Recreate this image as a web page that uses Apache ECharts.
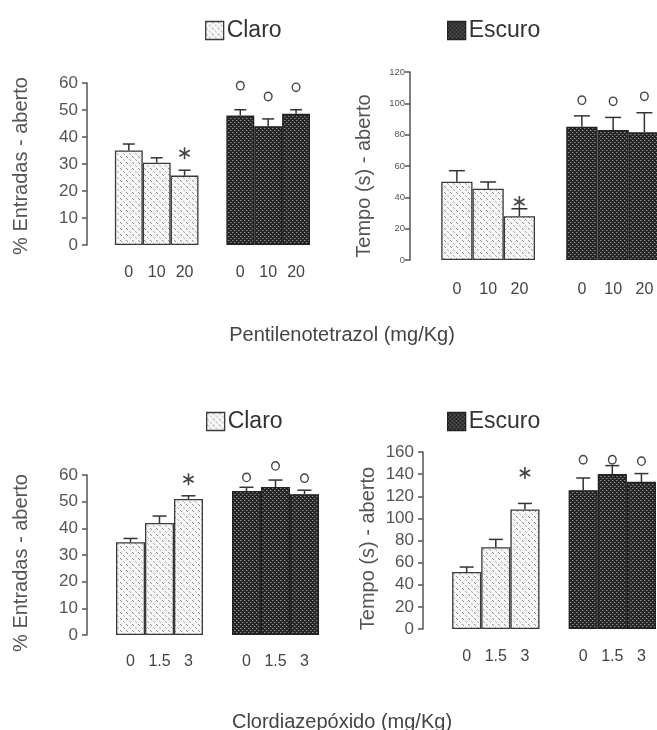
<!DOCTYPE html>
<html><head><meta charset="utf-8">
<script src="https://cdn.jsdelivr.net/npm/echarts@6/dist/echarts.min.js"></script>
<style>html,body{margin:0;padding:0;background:#fff}#c{width:657px;height:730px}</style>
</head><body><div id="c"></div>
<script>
// ---- data ----
const dosesPTZ = ['0', '10', '20'];
const dosesCDP = ['0', '1.5', '3'];
// Pentilenotetrazol: % entradas
const ptzEntClaro = [35, 30.5, 25.7];
const ptzEntClaroErr = [2.4, 1.8, 2.0];
const ptzEntEscuro = [48, 44, 48.6];
const ptzEntEscuroErr = [2.1, 2.7, 1.5];
const ptzEntClaroMark = [null, null, 34];
const ptzEntEscuroMark = [59, 55, 58.4];
// Pentilenotetrazol: tempo
const ptzTempoClaro = [50, 45.5, 28];
const ptzTempoClaroErr = [7, 4.3, 4.7];
const ptzTempoEscuro = [85, 83, 81.5];
const ptzTempoEscuroErr = [7, 8, 12.5];
const ptzTempoClaroMark = [null, null, 37];
const ptzTempoEscuroMark = [102, 101.3, 104.5];
// Clordiazepoxido: % entradas
const cdpEntClaro = [34.8, 42, 51];
const cdpEntClaroErr = [1.4, 2.6, 1.2];
const cdpEntEscuro = [54, 55.5, 52.8];
const cdpEntEscuroErr = [1.4, 2.6, 1.5];
const cdpEntClaroMark = [null, null, 58.4];
const cdpEntEscuroMark = [59.1, 63.4, 58.8];
// Clordiazepoxido: tempo
const cdpTempoClaro = [51.5, 74, 108];
const cdpTempoClaroErr = [4.5, 7, 5.5];
const cdpTempoEscuro = [125.5, 140, 133];
const cdpTempoEscuroErr = [11, 7.7, 7.5];
const cdpTempoClaroMark = [null, null, 141];
const cdpTempoEscuroMark = [153, 153, 151.7];

const yTicksEnt = [0, 10, 20, 30, 40, 50, 60];
const yTicksTempoPTZ = [0, 20, 40, 60, 80, 100, 120];
const yTicksTempoCDP = [0, 20, 40, 60, 80, 100, 120, 140, 160];

// ---- patterns ----
function patClaro() {
  const c = document.createElement('canvas'); c.width = 6; c.height = 6;
  const g = c.getContext('2d');
  g.fillStyle = '#f6f6f6'; g.fillRect(0, 0, 6, 6);
  g.fillStyle = '#8c8c8c';
  g.fillRect(0, 0, 1, 1); g.fillRect(1, 1, 1, 1);
  g.fillStyle = '#b0b0b0';
  g.fillRect(3, 3, 1, 1); g.fillRect(4, 4, 1, 1);
  return c;
}
function patEscuro() {
  const c = document.createElement('canvas'); c.width = 4; c.height = 4;
  const g = c.getContext('2d');
  g.fillStyle = '#262626'; g.fillRect(0, 0, 4, 4);
  g.fillStyle = '#8e8e8e';
  g.fillRect(0, 0, 1, 1); g.fillRect(2, 2, 1, 1);
  g.fillStyle = '#555';
  g.fillRect(1, 0, 1, 1); g.fillRect(3, 2, 1, 1);
  return c;
}
const fillClaro = { image: patClaro(), repeat: 'repeat' };
const fillEscuro = { image: patEscuro(), repeat: 'repeat' };

const FONT = 'Liberation Sans, Arial, sans-serif';

function cats(doses) { return [''].concat(doses, [''], doses); }
function pad(claro, escuro) {
  return {
    c: [null].concat(claro, [null, null, null, null]),
    e: [null, null, null, null, null].concat(escuro)
  };
}

const grids = [
  { left: 87, top: 83, width: 223, height: 162 },
  { left: 410, top: 72, width: 250, height: 188 },
  { left: 87, top: 475, width: 232, height: 160 },
  { left: 423, top: 452, width: 233, height: 177 }
];

const panels = [
  { doses: dosesPTZ, claro: ptzEntClaro, cErr: ptzEntClaroErr, escuro: ptzEntEscuro, eErr: ptzEntEscuroErr,
    cMark: ptzEntClaroMark, eMark: ptzEntEscuroMark, ticks: yTicksEnt, name: '% Entradas - aberto',
    tickFont: 17, nameGap: 56, namePad: [0, 4, 0, 0], cap: 6, labelMargin: 20 },
  { doses: dosesPTZ, claro: ptzTempoClaro, cErr: ptzTempoClaroErr, escuro: ptzTempoEscuro, eErr: ptzTempoEscuroErr,
    cMark: ptzTempoClaroMark, eMark: ptzTempoEscuroMark, ticks: yTicksTempoPTZ, name: 'Tempo (s) - aberto',
    tickFont: 9.5, nameGap: 36, namePad: [0, 20, 0, 0], cap: 8, labelMargin: 22 },
  { doses: dosesCDP, claro: cdpEntClaro, cErr: cdpEntClaroErr, escuro: cdpEntEscuro, eErr: cdpEntEscuroErr,
    cMark: cdpEntClaroMark, eMark: cdpEntEscuroMark, ticks: yTicksEnt, name: '% Entradas - aberto',
    tickFont: 17, nameGap: 56, namePad: [0, 16, 0, 0], cap: 7, labelMargin: 19 },
  { doses: dosesCDP, claro: cdpTempoClaro, cErr: cdpTempoClaroErr, escuro: cdpTempoEscuro, eErr: cdpTempoEscuroErr,
    cMark: cdpTempoClaroMark, eMark: cdpTempoEscuroMark, ticks: yTicksTempoCDP, name: 'Tempo (s) - aberto',
    tickFont: 17, nameGap: 45, namePad: [0, 16, 0, 0], cap: 7, labelMargin: 20 }
];

const xAxes = [], yAxes = [], series = [];
panels.forEach((p, i) => {
  xAxes.push({
    type: 'category', gridIndex: i, data: cats(p.doses), boundaryGap: true,
    axisLine: { show: false }, axisTick: { show: false },
    axisLabel: { interval: 0, margin: p.labelMargin, fontFamily: FONT, fontSize: 16, color: '#444' }
  });
  const t = p.ticks;
  yAxes.push({
    type: 'value', gridIndex: i, min: t[0], max: t[t.length - 1], interval: t[1] - t[0],
    splitLine: { show: false },
    axisLine: { show: true, lineStyle: { color: '#555', width: 1.5 } },
    axisTick: { show: true, length: 5, lineStyle: { color: '#555', width: 1.5 } },
    axisLabel: { fontFamily: FONT, fontSize: p.tickFont, color: '#555', margin: p.tickFont > 12 ? 9 : 5 },
    name: p.name, nameLocation: 'middle', nameGap: p.nameGap,
    nameTextStyle: { fontFamily: FONT, fontSize: 20, color: '#555', padding: p.namePad }
  });
  const d = pad(p.claro, p.escuro);
  series.push({
    type: 'bar', name: 'Claro', xAxisIndex: i, yAxisIndex: i, data: d.c,
    barCategoryGap: '0%', barGap: '-100%',
    itemStyle: { color: fillClaro, borderColor: '#3a3a3a', borderWidth: 1.3 }, z: 2
  });
  series.push({
    type: 'bar', name: 'Escuro', xAxisIndex: i, yAxisIndex: i, data: d.e,
    barCategoryGap: '0%', barGap: '-100%',
    itemStyle: { color: fillEscuro, borderColor: '#222', borderWidth: 1.3 }, z: 2
  });
  const errData = [];
  p.claro.forEach((v, k) => errData.push([k + 1, v, p.cErr[k]]));
  p.escuro.forEach((v, k) => errData.push([k + 5, v, p.eErr[k]]));
  const cap = p.cap;
  series.push({
    type: 'custom', xAxisIndex: i, yAxisIndex: i, data: errData, z: 3, silent: true,
    encode: { x: 0, y: 1 },
    renderItem: function (params, api) {
      const x = api.value(0), v = api.value(1), e = api.value(2);
      const b = api.coord([x, v]), tp = api.coord([x, v + e]);
      const st = { stroke: '#333', lineWidth: 1.5 };
      return { type: 'group', children: [
        { type: 'line', shape: { x1: b[0], y1: b[1], x2: tp[0], y2: tp[1] }, style: st },
        { type: 'line', shape: { x1: tp[0] - cap, y1: tp[1], x2: tp[0] + cap, y2: tp[1] }, style: st }
      ] };
    }
  });
  const markData = [];
  p.cMark.forEach((v, k) => { if (v != null) markData.push([k + 1, v, 0]); });
  p.eMark.forEach((v, k) => { if (v != null) markData.push([k + 5, v, 1]); });
  series.push({
    type: 'custom', xAxisIndex: i, yAxisIndex: i, data: markData, z: 4, silent: true,
    encode: { x: 0, y: 1 },
    renderItem: function (params, api) {
      const c = api.coord([api.value(0), api.value(1)]);
      if (api.value(2) === 1) {
        return { type: 'ellipse', shape: { cx: c[0], cy: c[1], rx: 3.8, ry: 4.2 },
          style: { fill: 'none', stroke: '#444', lineWidth: 1.4 } };
      }
      const r = 6, ch = [];
      for (let a = 0; a < 3; a++) {
        const ang = Math.PI / 2 + a * Math.PI / 3;
        ch.push({ type: 'line', shape: { x1: c[0] - r * Math.cos(ang), y1: c[1] - r * Math.sin(ang),
          x2: c[0] + r * Math.cos(ang), y2: c[1] + r * Math.sin(ang) }, style: { stroke: '#444', lineWidth: 1.6 } });
      }
      return { type: 'group', children: ch };
    }
  });
});

const legendCommon = {
  icon: 'rect', itemWidth: 18, itemHeight: 18, itemGap: 0, selectedMode: false,
  textStyle: { fontFamily: FONT, fontSize: 23, color: '#333', padding: [0, 0, 0, -2] },
  itemStyle: { borderWidth: 1.3 }
};

const option = {
  backgroundColor: '#fff',
  animation: false,
  textStyle: { fontFamily: FONT },
  grid: grids.map(g => Object.assign({ outerBoundsMode: 'none', containLabel: false }, g)),
  xAxis: xAxes,
  yAxis: yAxes,
  legend: [
    Object.assign({}, legendCommon, { data: ['Claro'], left: 200, top: 14 }),
    Object.assign({}, legendCommon, { data: ['Escuro'], left: 442, top: 14 }),
    Object.assign({}, legendCommon, { data: ['Claro'], left: 201, top: 405 }),
    Object.assign({}, legendCommon, { data: ['Escuro'], left: 442, top: 405 })
  ],
  title: [
    { text: 'Pentilenotetrazol (mg/Kg)', left: 337, textAlign: 'center', top: 320,
      textStyle: { fontFamily: FONT, fontSize: 20, fontWeight: 'normal', color: '#444' } },
    { text: 'Clordiazepóxido (mg/Kg)', left: 337, textAlign: 'center', top: 707,
      textStyle: { fontFamily: FONT, fontSize: 20, fontWeight: 'normal', color: '#444' } }
  ],
  series: series
};

const chart = echarts.init(document.getElementById('c'), null, { renderer: 'canvas' });
chart.setOption(option);
</script>
</body></html>
